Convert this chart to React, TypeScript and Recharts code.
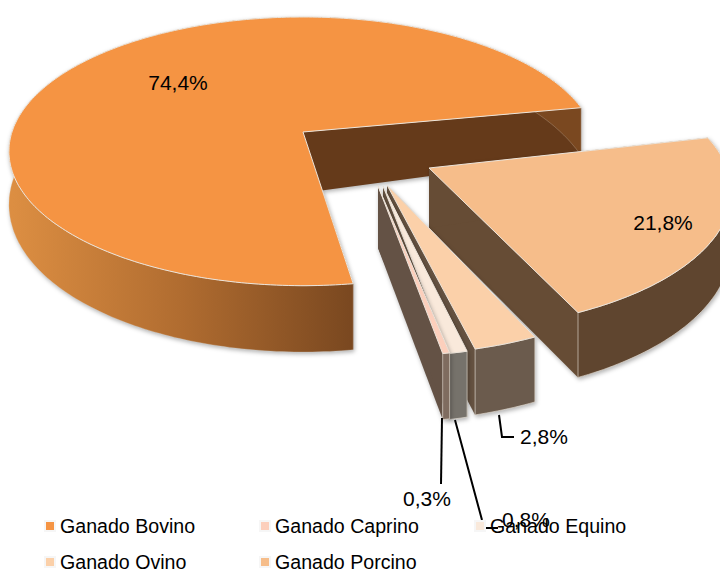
import { PieChart, Pie, Legend } from "recharts";

const categories = ["Ganado Bovino", "Ganado Porcino", "Ganado Ovino", "Ganado Equino", "Ganado Caprino"];
const shares = [74.4, 21.8, 2.8, 0.8, 0.3];

const topColors = ["#f59443", "#f6bd8a", "#fbd0a9", "#f9e9db", "#fccfbc"];
const rimColors = ["url(#bovinoRim)", "#5f452f", "#6b5b4d", "#76726b", "#7f6c5f"];
const cutColors = ["#653a1a", "#664c35", "#655241", "#655241", "#645245"];

// how each exploded slice sits in the fake 3D view
const views = [
  { dx: 0, dy: 0, scale: 1, squash: 0.452, persp: 0.144, turn: -0.5, apexDepth: 61 },
  { dx: 126, dy: 36, scale: 1.024, squash: 0.453, persp: 0.17, turn: -3, apexDepth: 60 },
  { dx: 84, dy: 53, scale: 1, squash: 0.452, persp: 0.227, turn: -1.7, apexDepth: 62 },
  { dx: 80, dy: 54, scale: 1, squash: 0.452, persp: 0.23, turn: -1, apexDepth: 62 },
  { dx: 75, dy: 54, scale: 1, squash: 0.452, persp: 0.23, turn: -1.9, apexDepth: 62 },
];

const labelSpots = [
  { x: 178, y: 82 },
  { x: 663, y: 222 },
  { x: 544, y: 436 },
  { x: 526, y: 519 },
  { x: 427, y: 498 },
];
const leaders = ["", "", "499,415 502,437 514,437", "455,420 482,520 M486,528 498,528", "442,418 441,484"];

const tableData = categories.map((name, i) => ({ name, value: shares[i], fill: topColors[i] }));

const toD = (pts: number[][]) => pts.map((p, i) => (i ? "L" : "M") + p[0].toFixed(1) + " " + p[1].toFixed(1)).join(" ") + " Z";

function Slice3D(props: any) {
  const { cx, cy, outerRadius, startAngle, endAngle, name } = props;
  const i = categories.indexOf(name);
  const view = views[i];
  const rx = outerRadius * view.scale;
  const ax = cx + view.dx;
  const ay = cy + view.dy;
  const place = (theta: number) => {
    const rad = ((theta + view.turn) * Math.PI) / 180;
    const u = Math.sin(rad);
    const v = -Math.cos(rad);
    const g = 1 / (1 - view.persp * v);
    return { x: ax + rx * u * g, y: ay + rx * view.squash * v * g, depth: 51 * (1 + 0.3 * v) };
  };
  const from = 90 - startAngle;
  const to = 90 - endAngle;
  const arc: { x: number; y: number; depth: number }[] = [];
  const steps = Math.max(2, Math.ceil(to - from));
  for (let s = 0; s <= steps; s++) arc.push(place(from + ((to - from) * s) / steps));
  const first = arc[0];
  const last = arc[arc.length - 1];

  const top = [[ax, ay], ...arc.map((p) => [p.x, p.y])];
  const rim = [...arc.map((p) => [p.x, p.y]), ...[...arc].reverse().map((p) => [p.x, p.y + p.depth])];
  const cutA = [[ax, ay], [first.x, first.y], [first.x, first.y + first.depth], [ax, ay + view.apexDepth]];
  const cutB = [[ax, ay], [last.x, last.y], [last.x, last.y + last.depth], [ax, ay + view.apexDepth]];

  return (
    <g style={{ filter: "drop-shadow(1px 2px 2px rgba(0,0,0,0.3))" }}>
      <defs>
        <linearGradient id="bovinoRim" gradientUnits="userSpaceOnUse" x1={cx - 290} y1={0} x2={cx + 48} y2={0}>
          <stop offset="0" stopColor="#dc8e42" />
          <stop offset="0.5" stopColor="#b06c30" />
          <stop offset="1" stopColor="#7a4820" />
        </linearGradient>
      </defs>
      <path d={toD(cutB)} fill={cutColors[i]} />
      <path d={toD(cutA)} fill={cutColors[i]} />
      <path d={toD(rim)} fill={rimColors[i]} stroke="#e4dcd2" strokeWidth={0.8} strokeOpacity={i === 0 ? 0.3 : 0.8} />
      <path d={toD(top)} fill={topColors[i]} stroke="#ece4da" strokeWidth={1} />
    </g>
  );
}

function SliceLabel(props: any) {
  const i = props.index;
  const spot = labelSpots[i];
  return (
    <g>
      {leaders[i] && <path d={"M" + leaders[i]} fill="none" stroke="#000" strokeWidth={2} />}
      <text x={spot.x} y={spot.y} textAnchor="middle" dominantBaseline="central" fontSize={21} fontFamily="Liberation Sans" fill="#000">
        {String(shares[i]).replace(".", ",")}%
      </text>
    </g>
  );
}

function LegendRows({ payload }: any) {
  const items = payload && payload.length ? payload : tableData.map((d) => ({ value: d.name, color: d.fill }));
  return (
    <div style={{ display: "grid", gridTemplateColumns: "215px 215px 215px", rowGap: 12, paddingLeft: 46, fontFamily: "Liberation Sans", fontSize: 19.6, lineHeight: "24px", color: "#000" }}>
      {items.map((it: any) => (
        <div key={it.value} style={{ display: "flex", alignItems: "center", whiteSpace: "nowrap" }}>
          <span style={{ width: 8, height: 8, background: it.color, boxShadow: "0 0 0 2px #f6f6f6", marginRight: 6 }} />
          {it.value}
        </div>
      ))}
    </div>
  );
}

export default function App() {
  return (
    <div style={{ position: "absolute", left: 0, top: 0, width: 720, height: 571, overflow: "hidden", background: "#fff" }}>
      <PieChart width={720} height={600} margin={{ top: 0, right: 0, bottom: 0, left: 0 }}>
        <Pie
          data={tableData}
          dataKey="value"
          nameKey="name"
          cx={303}
          cy={132}
          outerRadius={291}
          startAngle={-82}
          endAngle={-442}
          stroke="none"
          shape={Slice3D}
          label={SliceLabel}
          labelLine={false}
          isAnimationActive={false}
        />
        <Legend content={LegendRows} wrapperStyle={{ left: 0, top: 514, width: 720, bottom: "auto" }} />
      </PieChart>
    </div>
  );
}
